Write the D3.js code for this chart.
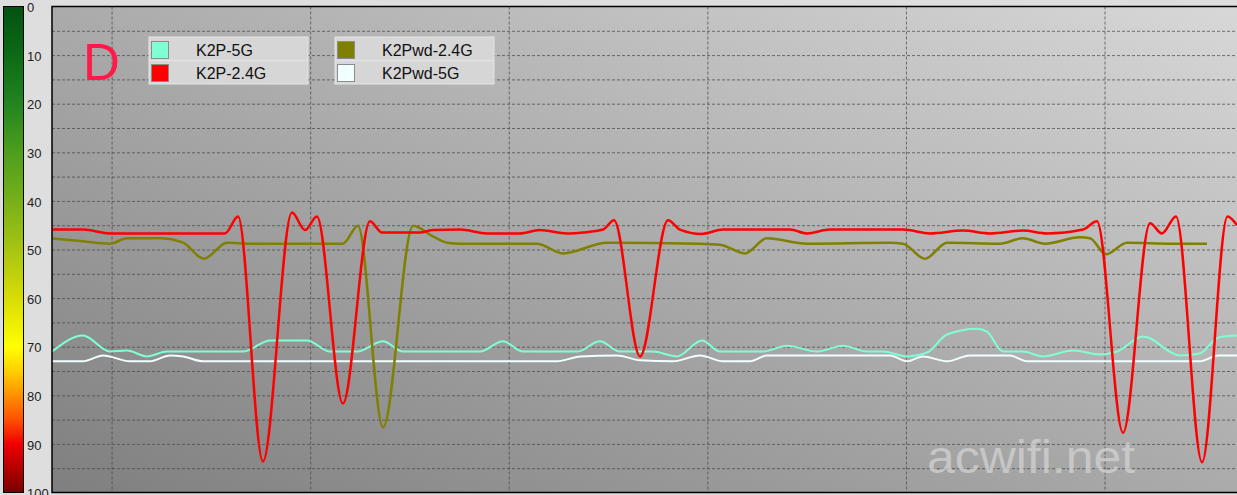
<!DOCTYPE html>
<html><head><meta charset="utf-8">
<script src="https://cdn.jsdelivr.net/npm/d3@7"></script>
<style>
html,body{margin:0;padding:0;background:#dedede;overflow:hidden}
svg{display:block}
</style></head>
<body>
<svg id="c" width="1237" height="495"></svg>
<script>
// ---- data (time in s, signal value on 0..100 scale) ----
const yTickLabels = [0,10,20,30,40,50,60,70,80,90,100];
const gridY = [5,10,15,20,25,30,35,40,45,50,55,60,65,70,75,80,85,90,95];
const gridX = [30,40,50,60,70,80];
const seriesNames = ["K2P-5G","K2P-2.4G","K2Pwd-2.4G","K2Pwd-5G"];
const seriesColors = ["#7fffd4","#ff0000","#808000","#f0ffff"];

const k2p24_t = [27.0,28.56,29.92,35.71,36.37,37.62,39.08,39.74,40.34,41.65,43.01,43.62,45.53,46.18,47.54,48.9,50.56,51.57,52.93,53.74,54.74,55.3,56.61,58.02,58.62,59.7,60.79,64.16,65.02,66.17,69.85,71.21,72.87,74.23,75.89,77.1,78.91,79.62,80.93,82.29,82.89,83.6,84.91,86.19,86.67];
const k2p24_v = [45.9,45.9,46.7,46.7,43.2,93.6,42.4,46.0,43.2,81.7,44.2,46.5,46.5,46.0,45.9,46.7,46.7,46.0,46.7,46.5,45.9,44.0,72.0,44.0,45.9,46.8,45.9,45.9,46.7,45.9,45.9,46.7,46.1,46.7,46.1,46.7,45.9,44.2,87.7,44.6,46.7,43.2,93.8,43.2,45.0];

const k2pwd24_t = [27.0,28.56,29.92,30.78,32.44,33.6,34.65,35.81,36.97,41.65,42.41,43.67,45.18,46.18,46.89,47.54,51.42,52.73,54.95,59.63,60.64,61.89,63.0,65.02,69.2,69.85,70.96,72.07,74.73,75.89,77.0,78.76,79.27,80.07,81.13,83.45,85.16];
const k2pwd24_v = [47.7,48.3,48.8,47.7,47.7,48.6,51.9,48.6,48.8,48.8,45.1,86.6,45.1,47.3,48.6,48.8,48.8,50.8,48.6,48.8,49.0,50.8,47.7,48.8,48.6,48.8,51.9,48.6,48.8,47.7,48.8,47.5,47.7,51.0,48.6,48.8,48.8];

const k2p5_t = [27.0,28.56,29.92,30.78,31.78,32.79,36.62,37.98,39.84,41.0,42.36,43.67,44.67,48.55,49.71,50.72,53.44,54.59,55.6,57.26,58.47,59.73,60.64,62.8,64.01,65.52,66.83,68.04,68.84,70.05,71.06,72.07,73.58,74.08,74.89,75.89,76.9,78.41,79.77,80.63,81.94,83.8,84.8,85.74,86.67];
const k2p5_v = [71.0,67.7,71.0,70.8,72.0,71.0,71.0,68.7,68.7,71.0,71.0,68.9,71.0,71.0,68.9,71.0,71.0,68.9,71.0,71.0,72.0,68.7,71.0,71.0,69.8,71.0,69.8,71.0,71.0,72.0,71.2,67.5,66.3,66.9,71.0,71.0,72.0,70.8,71.6,71.0,67.9,71.8,71.4,68.1,67.7];

const k2pwd5_t = [27.0,28.56,29.57,30.93,31.93,32.94,33.6,34.6,52.43,53.59,55.45,56.61,58.27,59.63,60.79,62.15,63.0,69.2,70.05,70.86,72.07,73.22,75.24,76.09,84.8,85.74,86.67];
const k2pwd5_v = [73.0,73.0,71.8,73.0,73.0,71.8,72.0,73.0,73.0,72.0,71.8,72.8,73.0,71.8,73.0,73.0,71.8,71.8,73.0,72.0,73.0,71.8,71.8,73.0,73.0,71.8,71.8];

// ---- layout ----
const W = 1237, H = 495;
const plot = {x0:52, x1:1237, y0:6.5, y1:492.5};
const svg = d3.select("#c");
const defs = svg.append("defs");

const x = d3.scaleLinear().domain([27, 86.67]).range([plot.x0, plot.x1]);
const y = d3.scaleLinear().domain([0, 100]).range([plot.y0, plot.y1]);

// plot background gradient
const bg = defs.append("linearGradient").attr("id","bg")
  .attr("x1","0").attr("y1","1").attr("x2","1").attr("y2","0");
bg.append("stop").attr("offset","0").attr("stop-color","#7f7f7f");
bg.append("stop").attr("offset","0.5").attr("stop-color","#ababab");
bg.append("stop").attr("offset","1").attr("stop-color","#d8d8d8");

// color bar gradient
const cb = defs.append("linearGradient").attr("id","cb")
  .attr("x1","0").attr("y1","0").attr("x2","0").attr("y2","1");
[[0,"#035212"],[0.1,"#0d6a16"],[0.2,"#238420"],[0.3,"#4e9e1e"],[0.4,"#77b01a"],
 [0.5,"#a8c412"],[0.6,"#d8dc06"],[0.7,"#ffff00"],[0.75,"#ffd000"],[0.8,"#ff9000"],
 [0.85,"#ff5000"],[0.9,"#f00000"],[1,"#7a0000"]].forEach(s=>
  cb.append("stop").attr("offset",s[0]).attr("stop-color",s[1]));

svg.append("rect").attr("x",3.5).attr("y",y(0)).attr("width",20).attr("height",y(100)-y(0))
  .attr("fill","url(#cb)").attr("stroke","#000").attr("stroke-width",1);

// y tick labels
const yAxis = svg.append("g").attr("transform","translate(24,1)")
  .call(d3.axisRight(y).tickValues(yTickLabels).tickSize(0).tickPadding(3));
yAxis.select(".domain").remove();
yAxis.selectAll("text").attr("font-family","Liberation Sans, Arial, sans-serif")
  .attr("font-size",13).attr("fill","#222");

// plot area
svg.append("rect").attr("x",plot.x0).attr("y",plot.y0)
  .attr("width",plot.x1-plot.x0+5).attr("height",plot.y1-plot.y0).attr("fill","url(#bg)");

// grid lines
const gy = svg.append("g").attr("transform",`translate(${plot.x0},0)`)
  .call(d3.axisRight(y).tickValues(gridY).tickSize(plot.x1-plot.x0).tickFormat(""));
gy.select(".domain").remove();
gy.selectAll("line").attr("stroke","#4a4a4a").attr("stroke-dasharray","3,2").attr("stroke-opacity",0.75);
const gx = svg.append("g").attr("transform",`translate(0,${plot.y0})`)
  .call(d3.axisBottom(x).tickValues(gridX).tickSize(plot.y1-plot.y0).tickFormat(""));
gx.select(".domain").remove();
gx.selectAll("line").attr("stroke","#4a4a4a").attr("stroke-dasharray","3,2").attr("stroke-opacity",0.75);

// watermark
svg.append("text").attr("x",927).attr("y",473).attr("font-family","Liberation Sans, Arial, sans-serif")
  .attr("font-size",46).attr("textLength",208).attr("lengthAdjust","spacingAndGlyphs")
  .attr("fill","#d2d2d2").attr("fill-opacity",0.75).text("acwifi.net");

// lines
const clip = defs.append("clipPath").attr("id","clip");
clip.append("rect").attr("x",plot.x0).attr("y",plot.y0).attr("width",plot.x1-plot.x0).attr("height",plot.y1-plot.y0);
const line = d3.line().x(d=>x(d[0])).y(d=>y(d[1])).curve(d3.curveMonotoneX);
const lg = svg.append("g").attr("clip-path","url(#clip)");
const series = [
  {t:k2pwd5_t, v:k2pwd5_v, c:seriesColors[3], w:2},
  {t:k2p5_t, v:k2p5_v, c:seriesColors[0], w:2},
  {t:k2pwd24_t, v:k2pwd24_v, c:seriesColors[2], w:2.5},
  {t:k2p24_t, v:k2p24_v, c:seriesColors[1], w:2.5}
];
series.forEach(s=>{
  lg.append("path").datum(d3.zip(s.t, s.v)).attr("d",line)
    .attr("fill","none").attr("stroke",s.c).attr("stroke-width",s.w)
    .attr("stroke-linejoin","round");
});

// plot border
svg.append("path").attr("d",`M${plot.x1+5},${plot.y0}H${plot.x0}V${plot.y1}H${plot.x1+5}`)
  .attr("fill","none").attr("stroke","#000").attr("stroke-width",1.5);

// "D" label
svg.append("text").attr("x",83).attr("y",80).attr("font-family","Liberation Sans, Arial, sans-serif")
  .attr("font-size",51).attr("fill","#ff1a4a").text("D");

// legend
const boxes = [{x:149, items:[0,1]},{x:335, items:[2,3]}];
boxes.forEach(b=>{
  const g = svg.append("g").attr("transform",`translate(${b.x},37)`);
  g.append("rect").attr("x",0).attr("y",0).attr("width",159).attr("height",47)
    .attr("fill","#d6d6d6").attr("stroke","#e6e6e6").attr("stroke-width",1);
  g.append("line").attr("x1",0).attr("x2",159).attr("y1",23.5).attr("y2",23.5)
    .attr("stroke","#e2e2e2").attr("stroke-width",1.5);
  b.items.forEach((si,i)=>{
    g.append("rect").attr("x",2.5).attr("y",4.5+i*23).attr("width",17).attr("height",17)
      .attr("fill",seriesColors[si]).attr("stroke","#8c8c8c").attr("stroke-width",1);
    g.append("text").attr("x",47).attr("y",19+i*23)
      .attr("font-family","Liberation Sans, Arial, sans-serif").attr("font-size",16)
      .attr("fill","#111").text(seriesNames[si]);
  });
});
</script>
</body></html>
